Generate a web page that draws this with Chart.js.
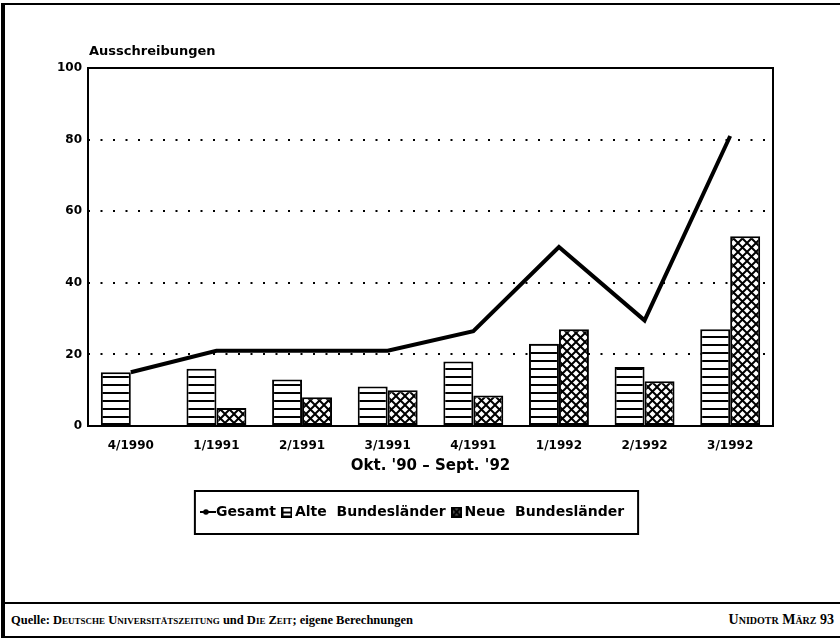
<!DOCTYPE html>
<html>
<head>
<meta charset="utf-8">
<script src="https://cdn.jsdelivr.net/npm/chart.js@4"></script>
<style>
  html, body { margin: 0; padding: 0; background: #fff; }
  #page { position: relative; width: 840px; height: 641px; overflow: hidden; background: #fff; }
  #chart { position: absolute; left: 0; top: 0; }
  .rule { position: absolute; background: #000; }
  .foot { position: absolute; top: 613px; font-family: "Liberation Serif", serif; font-weight: bold; font-size: 12.5px; color: #000; white-space: nowrap; }
  .sc { font-variant: small-caps; }
</style>
</head>
<body>
<div id="page">
  <canvas id="chart" width="840" height="600"></canvas>
  <div class="rule" style="left:1px; top:3px; width:839px; height:2px;"></div>
  <div class="rule" style="left:1px; top:3px; width:4px; height:635px;"></div>
  <div class="rule" style="left:1px; top:602px; width:839px; height:2px;"></div>
  <div class="rule" style="left:1px; top:636px; width:839px; height:2px;"></div>
  <div class="foot" style="left:11px;">Quelle: <span class="sc">Deutsche Universitätszeitung</span> und <span class="sc">Die Zeit</span>; eigene Berechnungen</div>
  <div class="foot" style="right:6px; font-size:14px; top:612px;"><span class="sc">Unidotr März</span> 93</div>
</div>
<script>
// Quartale, Okt. '90 - Sept. '92
const quartale = ["4/1990", "1/1991", "2/1991", "3/1991", "4/1991", "1/1992", "2/1992", "3/1992"];
const gesamt = [15, 21, 21, 21, 26.5, 50, 29.5, 81];
const alteLaender = [15, 16, 13, 11, 18, 23, 16.5, 27];
const neueLaender = [0, 5, 8, 10, 8.5, 27, 12.5, 53];
const serienNamen = ["Gesamt", "Alte  Bundesländer", "Neue  Bundesländer"];

const canvas = document.getElementById("chart");
const ctx = canvas.getContext("2d");

// kleine Hilfs-Canvas fuer Muster und Legendensymbole
function tile(w, h, draw) {
  const c = document.createElement("canvas");
  c.width = w;
  c.height = h;
  draw(c.getContext("2d"));
  return c;
}

// waagerechte Streifen (alte Laender)
const streifen = ctx.createPattern(tile(8, 8, (g) => {
  g.fillStyle = "#fff";
  g.fillRect(0, 0, 8, 8);
  g.fillStyle = "#000";
  g.fillRect(0, 0, 8, 2);
}), "repeat");

// Kreuzschraffur (neue Laender)
const kreuz = ctx.createPattern(tile(9, 9, (g) => {
  g.fillStyle = "#fff";
  g.fillRect(0, 0, 9, 9);
  g.strokeStyle = "#000";
  g.lineWidth = 2;
  for (const o of [-9, 0, 9]) {
    g.beginPath();
    g.moveTo(o, 0);
    g.lineTo(o + 9, 9);
    g.moveTo(o, 9);
    g.lineTo(o + 9, 0);
    g.stroke();
  }
}), "repeat");

// Legendensymbole
const symGesamt = tile(16, 8, (g) => {
  g.fillStyle = "#000";
  g.fillRect(0, 3, 16, 2);
  g.beginPath();
  g.arc(6, 4, 2.8, 0, Math.PI * 2);
  g.fill();
});
const symAlte = tile(11, 11, (g) => {
  g.fillStyle = "#fff";
  g.fillRect(0, 0, 11, 11);
  g.strokeStyle = "#000";
  g.lineWidth = 2;
  g.strokeRect(1, 1, 9, 9);
  g.fillStyle = "#000";
  g.fillRect(1, 5, 9, 2);
});
const symNeue = tile(11, 11, (g) => {
  g.fillStyle = "#555";
  g.fillRect(0, 0, 11, 11);
  g.strokeStyle = "#000";
  g.lineWidth = 2;
  g.strokeRect(1, 1, 9, 9);
  g.beginPath();
  g.moveTo(1, 1);
  g.lineTo(10, 10);
  g.moveTo(10, 1);
  g.lineTo(1, 10);
  g.stroke();
});

// Rahmen um Diagrammflaeche, Achsentitel oben, Kasten um Legende
const rahmen = {
  id: "rahmen",
  afterDatasetsDraw(chart) {
    const a = chart.chartArea;
    const c = chart.ctx;
    c.save();
    c.strokeStyle = "#000";
    c.lineWidth = 2;
    c.strokeRect(a.left, a.top, a.right - a.left, a.bottom - a.top);
    c.restore();
  },
  afterDraw(chart) {
    const a = chart.chartArea;
    const c = chart.ctx;
    c.save();
    c.fillStyle = "#000";
    c.font = "bold 13px 'DejaVu Sans'";
    c.textBaseline = "middle";
    c.textAlign = "left";
    c.fillText("Ausschreibungen", a.left + 1, a.top - 16);

    const hb = chart.legend.legendHitBoxes;
    if (hb && hb.length) {
      const first = hb[0];
      const last = hb[hb.length - 1];
      const mitte = first.top + 7;
      c.strokeStyle = "#000";
      c.lineWidth = 2;
      c.strokeRect(first.left - 12, mitte - 21, last.left + last.width + 14 - (first.left - 12), 43);
    }
    c.restore();
  },
};

const tickFont = { family: "DejaVu Sans", size: 12, weight: "bold" };

new Chart(ctx, {
  data: {
    labels: quartale,
    datasets: [
      {
        type: "line",
        label: serienNamen[0],
        data: gesamt,
        borderColor: "#000",
        backgroundColor: "#000",
        borderWidth: 4,
        pointRadius: 0,
        tension: 0,
        order: 0,
      },
      {
        type: "bar",
        label: serienNamen[1],
        data: alteLaender,
        backgroundColor: streifen,
        borderColor: "#000",
        borderWidth: 2,
        borderSkipped: false,
        categoryPercentage: 0.7,
        barPercentage: 1.0,
        order: 1,
      },
      {
        type: "bar",
        label: serienNamen[2],
        data: neueLaender,
        backgroundColor: kreuz,
        borderColor: "#000",
        borderWidth: 2,
        borderSkipped: false,
        categoryPercentage: 0.7,
        barPercentage: 1.0,
        order: 1,
      },
    ],
  },
  options: {
    responsive: false,
    animation: false,
    layout: {
      padding: { left: 58, right: 67, top: 68, bottom: 71 },
    },
    scales: {
      x: {
        grid: { display: false },
        border: { display: false },
        ticks: { color: "#000", font: tickFont, padding: 5, maxRotation: 0, autoSkip: false },
        title: {
          display: true,
          text: "Okt. '90 – Sept. '92",
          color: "#000",
          font: { family: "DejaVu Sans", size: 15, weight: "bold" },
          padding: { top: 0, bottom: 20 },
        },
        afterFit(scale) {
          scale.height = 69;
        },
      },
      y: {
        min: 0,
        max: 100,
        ticks: { stepSize: 20, color: "#000", font: tickFont, padding: 6 },
        grid: {
          drawTicks: false,
          lineWidth: 2,
          color: (c) => (c.tick && (c.tick.value === 0 || c.tick.value === 100) ? "rgba(0,0,0,0)" : "#000"),
        },
        border: { display: false, dash: [2, 10.5] },
        afterFit(scale) {
          scale.width = 30;
        },
      },
    },
    plugins: {
      tooltip: { enabled: false },
      legend: {
        position: "bottom",
        onClick: null,
        labels: {
          usePointStyle: true,
          pointStyleWidth: 2,
          padding: 10,
          color: "#000",
          font: { family: "DejaVu Sans", size: 14, weight: "bold" },
          generateLabels: () => [
            { text: serienNamen[0], pointStyle: symGesamt, fillStyle: "#000", strokeStyle: "#000", lineWidth: 0, hidden: false, datasetIndex: 0 },
            { text: serienNamen[1], pointStyle: symAlte, fillStyle: "#fff", strokeStyle: "#000", lineWidth: 0, hidden: false, datasetIndex: 1 },
            { text: serienNamen[2], pointStyle: symNeue, fillStyle: "#fff", strokeStyle: "#000", lineWidth: 0, hidden: false, datasetIndex: 2 },
          ],
        },
      },
    },
  },
  plugins: [rahmen],
});
</script>
</body>
</html>
